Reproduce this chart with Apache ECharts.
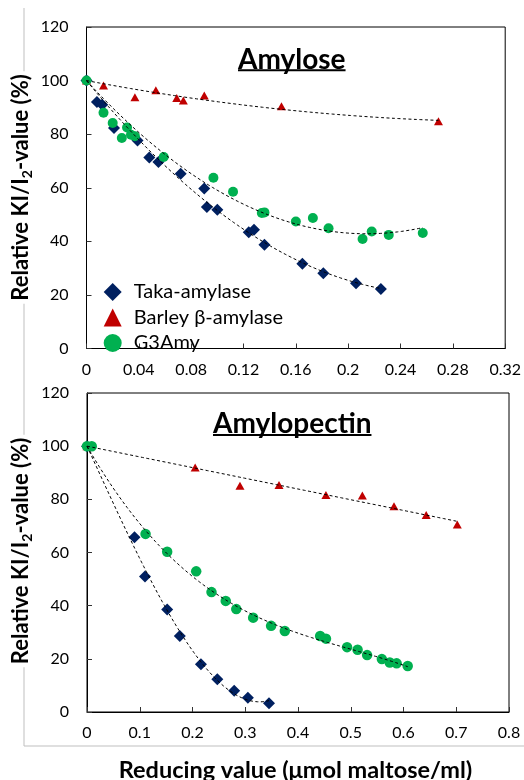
<!DOCTYPE html>
<html>
<head>
<meta charset="utf-8">
<script src="https://cdn.jsdelivr.net/npm/echarts@6/dist/echarts.min.js"></script>
<style>
  html, body { margin: 0; padding: 0; background: #fff; }
  #chart { width: 524px; height: 780px; }
</style>
</head>
<body>
<div id="chart"></div>
<script>
// ---- Amylose panel data (reducing value, relative KI/I2 value %) ----
const amyloseTakaX = [0, 0.008, 0.012, 0.021, 0.039, 0.048, 0.055, 0.072, 0.090, 0.092, 0.100, 0.124, 0.128, 0.136, 0.165, 0.181, 0.206, 0.225];
const amyloseTakaY = [100, 92, 91, 82.3, 77.6, 71.3, 69.6, 65.2, 59.7, 52.8, 51.8, 43.4, 44.3, 38.7, 31.6, 28.1, 24.4, 22.2];
const amyloseBarleyX = [0, 0.013, 0.037, 0.053, 0.069, 0.074, 0.090, 0.149, 0.269];
const amyloseBarleyY = [100, 98.2, 93.8, 96.4, 93.5, 92.6, 94.4, 90.4, 84.8];
const amyloseG3X = [0, 0.013, 0.020, 0.027, 0.031, 0.034, 0.037, 0.059, 0.097, 0.112, 0.134, 0.136, 0.160, 0.173, 0.185, 0.211, 0.218, 0.231, 0.257];
const amyloseG3Y = [100, 88, 84.2, 78.6, 82.5, 79.8, 79.2, 71.5, 63.7, 58.5, 50.6, 50.8, 47.4, 48.7, 44.9, 40.9, 43.7, 42.4, 43.1];

// ---- Amylopectin panel data ----
const pectinTakaX = [0, 0.090, 0.110, 0.152, 0.176, 0.216, 0.247, 0.279, 0.305, 0.345];
const pectinTakaY = [100, 65.7, 51.0, 38.6, 28.6, 18.0, 12.3, 8.0, 5.4, 3.3];
const pectinBarleyX = [0, 0.205, 0.290, 0.364, 0.453, 0.522, 0.582, 0.643, 0.702];
const pectinBarleyY = [100, 92.0, 85.1, 85.4, 81.6, 81.4, 77.4, 74.1, 70.5];
const pectinG3X = [0, 0.009, 0.111, 0.152, 0.207, 0.236, 0.263, 0.283, 0.315, 0.349, 0.375, 0.442, 0.453, 0.493, 0.513, 0.531, 0.559, 0.574, 0.587, 0.608];
const pectinG3Y = [100, 100, 67.0, 60.3, 52.9, 45.1, 41.8, 38.7, 35.5, 32.4, 30.5, 28.6, 27.6, 24.4, 23.4, 21.4, 19.9, 18.6, 18.3, 17.3];

// ---- labels ----
const seriesNames = ['Taka-amylase', 'Barley β-amylase', 'G3Amy'];
const panelTitles = ['Amylose', 'Amylopectin'];
const yTitle = 'Relative KI/I{sub|2}-value (%)';
const xTitle = 'Reducing value (μmol maltose/ml)';

const FONT = 'Lato';
const COLORS = { taka: '#002060', barley: '#C00000', g3: '#00B050' };

function pairs(xs, ys) { return xs.map((x, i) => [x, ys[i]]); }

// Least-squares polynomial trendline with the intercept fixed at 100 %
function polyFit(xs, ys, order) {
  const n = order;
  const A = Array.from({ length: n }, () => new Array(n + 1).fill(0));
  for (let i = 0; i < xs.length; i++) {
    const r = ys[i] - 100;
    for (let a = 0; a < n; a++) {
      const pa = Math.pow(xs[i], a + 1);
      for (let b = 0; b < n; b++) A[a][b] += pa * Math.pow(xs[i], b + 1);
      A[a][n] += pa * r;
    }
  }
  for (let c = 0; c < n; c++) {
    let p = c;
    for (let r = c + 1; r < n; r++) if (Math.abs(A[r][c]) > Math.abs(A[p][c])) p = r;
    [A[c], A[p]] = [A[p], A[c]];
    for (let r = 0; r < n; r++) {
      if (r === c) continue;
      const f = A[r][c] / A[c][c];
      for (let k = c; k <= n; k++) A[r][k] -= f * A[c][k];
    }
  }
  const coef = A.map((row, i) => row[n] / row[i]);
  return x => 100 + coef.reduce((s, c, i) => s + c * Math.pow(x, i + 1), 0);
}

function trend(xs, ys, order, axis) {
  const f = polyFit(xs, ys, order);
  const xmax = Math.max(...xs);
  const pts = [];
  for (let i = 0; i <= 80; i++) { const x = xmax * i / 80; pts.push([x, f(x)]); }
  return {
    type: 'line', data: pts, xAxisIndex: axis, yAxisIndex: axis,
    showSymbol: false, symbol: 'none', silent: true, z: 5,
    lineStyle: { color: '#000', width: 1, type: [3, 2.5] }
  };
}

function scatter(name, xs, ys, axis, symbol, size, color) {
  return {
    type: 'scatter', name, data: pairs(xs, ys), xAxisIndex: axis, yAxisIndex: axis,
    symbol, symbolSize: size, itemStyle: { color, opacity: 1 }, z: 3, silent: true
  };
}

const tickLabel = { fontFamily: FONT, fontSize: 16, color: '#000' };
function xAxis(grid, max, interval) {
  return {
    type: 'value', gridIndex: grid, min: 0, max, interval,
    axisLine: { show: true, lineStyle: { color: '#000', width: 1 } },
    axisTick: { show: true, inside: true, length: 5, lineStyle: { color: '#333' } },
    splitLine: { show: false },
    axisLabel: Object.assign({ margin: 13, formatter: v => String(+v.toFixed(2)) }, tickLabel)
  };
}
function yAxis(grid) {
  return {
    type: 'value', gridIndex: grid, min: 0, max: 120, interval: 20,
    axisLine: { show: true, lineStyle: { color: '#000', width: 1 } },
    axisTick: { show: true, inside: true, length: 5, lineStyle: { color: '#333' } },
    splitLine: { show: false },
    axisLabel: Object.assign({ margin: 18 }, tickLabel)
  };
}

function textWidth(str, font) {
  const ctx = document.createElement('canvas').getContext('2d');
  ctx.font = font;
  return ctx.measureText(str).width;
}

const titleFont = 'bold 28px ' + FONT;
const titlePos = [[238, 59.5, 70.2], [213, 424, 435]];
const titleGraphics = [];
panelTitles.forEach((t, i) => {
  const [x, y, uy] = titlePos[i];
  titleGraphics.push({
    type: 'text', x, y, z: 10,
    style: { text: t, font: titleFont, fill: '#000', align: 'left', verticalAlign: 'middle' }
  });
  titleGraphics.push({
    type: 'rect', z: 10,
    shape: { x, y: uy - 1, width: textWidth(t, titleFont), height: 2 },
    style: { fill: '#000' }
  });
});

function yTitleGraphic(cy) {
  return {
    type: 'text', x: 21, y: cy, rotation: Math.PI / 2, z: 10,
    style: {
      text: yTitle, fontFamily: FONT, fontWeight: 'bold', fontSize: 22, lineHeight: 26,
      fill: '#000', align: 'center', verticalAlign: 'middle',
      backgroundColor: '#fff', padding: [0, 3],
      rich: { sub: { fontFamily: FONT, fontWeight: 'bold', fontSize: 14, lineHeight: 14, verticalAlign: 'bottom', fill: '#000' } }
    }
  };
}

const chart = echarts.init(document.getElementById('chart'), null, { renderer: 'canvas' });
chart.setOption({
  animation: false,
  backgroundColor: '#fff',
  grid: [
    { left: 86.5, right: 17, top: 27, bottom: 431.5, show: true, borderColor: '#000', borderWidth: 1 },
    { left: 87, right: 15, top: 393, bottom: 68, show: true, borderColor: '#000', borderWidth: 1 }
  ],
  xAxis: [xAxis(0, 0.32, 0.04), xAxis(1, 0.8, 0.1)],
  yAxis: [yAxis(0), yAxis(1)],
  legend: {
    data: seriesNames, orient: 'vertical', left: 98.7, top: 277,
    itemWidth: 18, itemHeight: 18, itemGap: 5.5, selectedMode: false,
    textStyle: { fontFamily: FONT, fontSize: 20, lineHeight: 20, color: '#000', padding: [0, 0, 0, 7] }
  },
  series: [
    scatter(seriesNames[0], amyloseTakaX, amyloseTakaY, 0, 'diamond', 12, COLORS.taka),
    scatter(seriesNames[1], amyloseBarleyX, amyloseBarleyY, 0, 'triangle', [9, 8], COLORS.barley),
    scatter(seriesNames[2], amyloseG3X, amyloseG3Y, 0, 'circle', 10, COLORS.g3),
    scatter(seriesNames[0], pectinTakaX, pectinTakaY, 1, 'diamond', 12, COLORS.taka),
    scatter(seriesNames[1], pectinBarleyX, pectinBarleyY, 1, 'triangle', [9, 8], COLORS.barley),
    scatter(seriesNames[2], pectinG3X, pectinG3Y, 1, 'circle', 10.5, COLORS.g3),
    trend(amyloseTakaX, amyloseTakaY, 2, 0),
    trend(amyloseBarleyX, amyloseBarleyY, 2, 0),
    trend(amyloseG3X, amyloseG3Y, 2, 0),
    trend(pectinTakaX, pectinTakaY, 3, 1),
    trend(pectinBarleyX, pectinBarleyY, 1, 1),
    trend(pectinG3X, pectinG3Y, 3, 1)
  ],
  graphic: [
    { type: 'polyline', z: 1, shape: { points: [[24, 8], [24, 746], [524, 746]] }, style: { stroke: '#BFBFBF', lineWidth: 1, fill: null } },
    yTitleGraphic(187.5),
    yTitleGraphic(551),
    {
      type: 'text', x: 295.5, y: 770, z: 10,
      style: { text: xTitle, fontFamily: FONT, fontWeight: 'bold', fontSize: 23.5, fill: '#000', align: 'center', verticalAlign: 'middle' }
    }
  ].concat(titleGraphics)
});
</script>
</body>
</html>
